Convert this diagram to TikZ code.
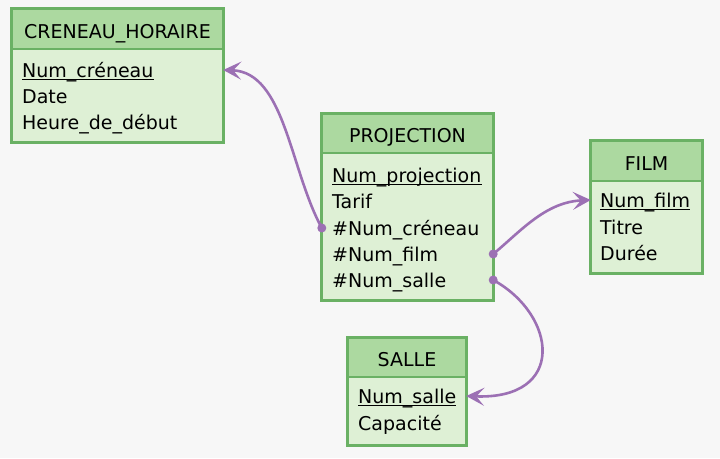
\documentclass[tikz,border=0pt]{standalone}
\usepackage{fontspec}
\setmainfont{DejaVu Sans}
\usetikzlibrary{arrows.meta}

\definecolor{bggray}{RGB}{247,247,247}
\definecolor{headgreen}{RGB}{172,217,160}
\definecolor{bodygreen}{RGB}{222,240,213}
\definecolor{edgegreen}{RGB}{106,177,100}
\definecolor{linkpurple}{RGB}{156,112,180}

\begin{document}
\begin{tikzpicture}[x=1pt, y=-1pt,
  every node/.style={font=\fontsize{19}{23}\selectfont, text=black},
  head/.style={rectangle, fill=headgreen, inner sep=0pt, minimum height=40pt,
    text height=18pt, text depth=0pt},
  body/.style={rectangle, fill=bodygreen, inner sep=0pt},
  frame/.style={draw=edgegreen, line width=3pt},
  sep/.style={draw=edgegreen, line width=1.5pt},
  attr/.style={anchor=base west, inner sep=0pt, text height=14pt, text depth=0pt},
  key/.style={line width=1.5pt, black},
  link/.style={draw=linkpurple, line width=2.6pt,
    -{Stealth[length=18pt, width=18pt, inset=8pt]}},
  dot/.style={fill=linkpurple}]

  % background
  \fill[bggray] (0,0) rectangle (720,458);
  \useasboundingbox (0,0) rectangle (720,458);

  % CRENEAU_HORAIRE
  \node[head, minimum width=211pt] (creH) at (117.5,29) {CRENEAU\_HORAIRE};
  \node[body, minimum width=211pt, minimum height=93pt] (creB) at (117.5,95.5) {};
  \draw[frame] (creH.north west) rectangle (creB.south east);
  \draw[sep] (creH.south west) -- (creH.south east);
  \node[attr] (cre1) at (22,77) {Num\_créneau};
  \node[attr] (cre2) at (22,103) {Date};
  \node[attr] (cre3) at (22,129) {Heure\_de\_début};
  \draw[key] ([yshift=-2.5pt]cre1.base west) -- ([yshift=-2.5pt]cre1.base east);

  % PROJECTION
  \node[head, minimum width=171pt, minimum height=39pt] (projH) at (407.5,133.5) {PROJECTION};
  \node[body, minimum width=171pt, minimum height=147pt] (projB) at (407.5,226.5) {};
  \draw[frame] (projH.north west) rectangle (projB.south east);
  \draw[sep] (projH.south west) -- (projH.south east);
  \node[attr] (proj1) at (332,182) {Num\_projection};
  \node[attr] (proj2) at (332,208) {Tarif};
  \node[attr] (proj3) at (332,235) {\#Num\_créneau};
  \node[attr] (proj4) at (332,261) {\#Num\_film};
  \node[attr] (proj5) at (332,287) {\#Num\_salle};
  \draw[key] ([yshift=-2.5pt]proj1.base west) -- ([yshift=-2.5pt]proj1.base east);

  % FILM
  \node[head, minimum width=111pt] (filmH) at (646.5,161) {FILM};
  \node[body, minimum width=111pt, minimum height=92pt] (filmB) at (646.5,227) {};
  \draw[frame] (filmH.north west) rectangle (filmB.south east);
  \draw[sep] (filmH.south west) -- (filmH.south east);
  \node[attr] (film1) at (600,207) {Num\_film};
  \node[attr] (film2) at (600,234) {Titre};
  \node[attr] (film3) at (600,260) {Durée};
  \draw[key] ([yshift=-2.5pt]film1.base west) -- ([yshift=-2.5pt]film1.base east);

  % SALLE
  \node[head, minimum width=118pt, minimum height=39pt] (salH) at (407,357.5) {SALLE};
  \node[body, minimum width=118pt, minimum height=68pt] (salB) at (407,411) {};
  \draw[frame] (salH.north west) rectangle (salB.south east);
  \draw[sep] (salH.south west) -- (salH.south east);
  \node[attr] (sal1) at (358,403) {Num\_salle};
  \node[attr] (sal2) at (358,430) {Capacité};
  \draw[key] ([yshift=-2.5pt]sal1.base west) -- ([yshift=-2.5pt]sal1.base east);

  % foreign keys
  \coordinate (fkcre) at (projB.west |- proj3.west);
  \coordinate (fkfilm) at (projB.east |- proj4.east);
  \coordinate (fksal) at (projB.east |- proj5.east);

  \draw[link] (fkcre) .. controls (290,170) and (285,72) .. (creB.east |- cre1.east);
  \draw[link] (fkfilm) .. controls (520,232) and (545,202) .. (filmB.west |- film1.west);
  \draw[link] (fksal) .. controls (557,315) and (567,400) .. (salB.east |- sal1.east);

  \fill[dot] (fkcre) circle (4.5pt);
  \fill[dot] (fkfilm) circle (4.5pt);
  \fill[dot] (fksal) circle (4.5pt);
\end{tikzpicture}
\end{document}
